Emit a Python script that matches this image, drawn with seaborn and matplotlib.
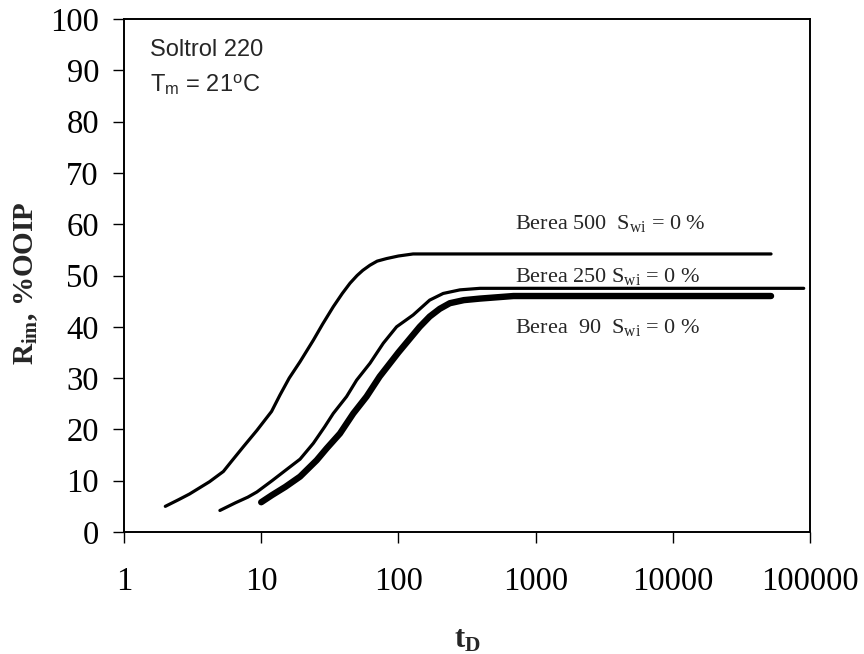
import matplotlib
matplotlib.use("Agg")
import matplotlib.pyplot as plt
import seaborn as sns
import pandas as pd

# ---- data ----
t_500 = [2, 2.5, 3, 3.5, 4.2, 5.3, 6, 7.4, 9.3, 11.9, 13.7, 16, 19.2, 24, 28, 33.5,
         39, 44.4, 50, 55, 62, 70, 82, 100, 128, 52000]
r_500 = [5, 6.3, 7.4, 8.5, 9.8, 11.8, 13.6, 16.6, 19.8, 23.5, 26.7, 30, 33.2, 37.4,
         40.5, 43.9, 46.5, 48.5, 50, 51, 52, 52.8, 53.3, 53.8, 54.2, 54.2]

t_250 = [5, 6.5, 8, 9.3, 12, 15, 19.2, 24, 29, 33.5, 41.9, 49.6, 62.1, 77.6, 97,
         128, 169, 212, 281, 393, 90000]
r_250 = [4.2, 5.7, 6.8, 7.8, 10, 12, 14.2, 17.3, 20.5, 23.1, 26.4, 29.6, 32.9,
         36.8, 40.0, 42.3, 45.2, 46.5, 47.2, 47.5, 47.5]

t_90 = [10, 12, 15, 19.2, 25.4, 30, 37.5, 46.9, 58.6, 73, 100, 143, 169, 200, 237,
        300, 393, 690, 52000]
r_90 = [5.8, 7.2, 8.8, 10.8, 14.0, 16.3, 19.2, 23.1, 26.4, 30.3, 35.0, 40.0, 42.0,
        43.5, 44.6, 45.2, 45.5, 46.0, 46.0]

x_ticks = [1, 10, 100, 1000, 10000, 100000]
x_ticklabels = ["1", "10", "100", "1000", "10000", "100000"]
y_ticks = [0, 10, 20, 30, 40, 50, 60, 70, 80, 90, 100]

series_labels = [r"Berea 500  S$_{\rm wi}$ = 0 %",
                 r"Berea 250 S$_{\rm wi}$ = 0 %",
                 r"Berea  90  S$_{\rm wi}$ = 0 %"]

# ---- style ----
sns.set_style("ticks")
plt.rcParams["font.family"] = ["Liberation Serif", "DejaVu Serif"]
plt.rcParams["mathtext.fontset"] = "custom"
plt.rcParams["mathtext.rm"] = "Liberation Serif"
plt.rcParams["mathtext.it"] = "Liberation Serif:italic"
plt.rcParams["mathtext.bf"] = "Liberation Serif:bold"
plt.rcParams["mathtext.sf"] = "Liberation Sans"

fig = plt.figure(figsize=(8.64, 6.54), dpi=100)
ax = fig.add_axes([124 / 864, (654 - 532) / 654, 686 / 864, 513 / 654])

frames = [
    (t_500, r_500, 2.3),
    (t_250, r_250, 2.3),
    (t_90, r_90, 4.6),
]
for t, r, lw in frames:
    df = pd.DataFrame({"t": t, "r": r})
    sns.lineplot(data=df, x="t", y="r", color="black", lw=lw, ax=ax,
                 sort=False, estimator=None, solid_capstyle="round",
                 solid_joinstyle="round")

ax.set_xscale("log")
ax.set_xlim(1, 100000)
ax.set_ylim(0, 100)
ax.set_xticks(x_ticks)
ax.set_xticklabels(x_ticklabels)
ax.minorticks_off()
ax.set_yticks(y_ticks)

for s in ax.spines.values():
    s.set_linewidth(1.4)
    s.set_color("black")
    s.set_visible(True)

ax.tick_params(axis="both", direction="out", length=8, width=1.0, color="black",
               labelsize=23.5, labelcolor="black")
ax.tick_params(axis="x", pad=17)
ax.tick_params(axis="y", pad=10)

ax.set_xlabel(r"t$_{\mathbf{D}}$", fontsize=22, fontweight="bold")
ax.set_ylabel(r"R$_{\mathbf{im}}$, %OOIP", fontsize=21, fontweight="bold")
ax.xaxis.set_label_coords(0.5, -0.183)
ax.yaxis.set_label_coords(-0.123, 0.485)

ax.text(0.038, 0.928, "Soltrol 220", transform=ax.transAxes,
        fontsize=17, family="Liberation Sans", va="baseline", ha="left")
ax.text(0.038, 0.858, r"T$_{\mathsf{m}}$ = 21$^{\mathsf{o}}$C", transform=ax.transAxes,
        fontsize=17, family="Liberation Sans", va="baseline", ha="left")

label_y = [0.5906, 0.488, 0.3885]
for lab, yy in zip(series_labels, label_y):
    ax.text(0.570, yy, lab, transform=ax.transAxes, fontsize=16,
            va="baseline", ha="left")

fig.savefig("out.png", dpi=100)
